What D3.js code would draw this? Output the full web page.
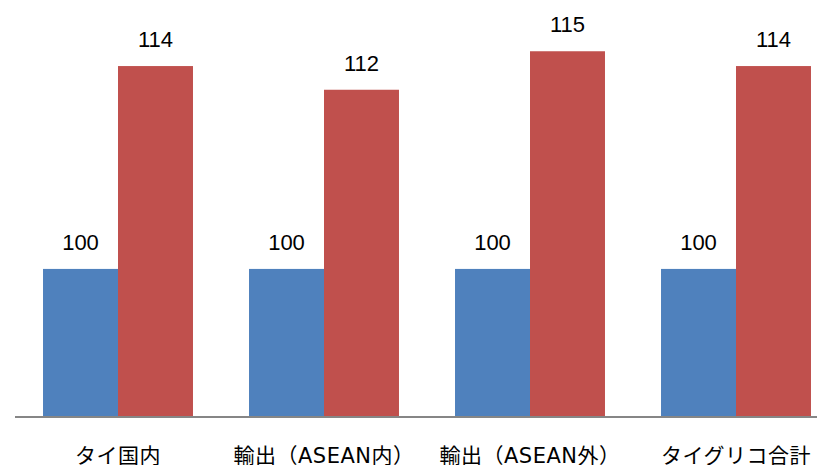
<!DOCTYPE html>
<html>
<head>
<meta charset="utf-8">
<script src="https://cdn.jsdelivr.net/npm/d3@7"></script>
<style>
  body { margin: 0; background: #fff; }
  svg { display: block; }
</style>
</head>
<body>
<div id="chart"></div>
<script>
// chart data
let categories = ["タイ国内", "輸出（ASEAN内）", "輸出（ASEAN外）", "タイグリコ合計"];
let seriesNames = ["base", "current"];
let baseValues = [100, 100, 100, 100];
let currentValues = [113.7, 112.1, 114.7, 113.7];
let seriesColors = ['#4F81BD', '#C0504D'];

let width = 817, height = 465;
let plotLeft = 15, plotRight = 839, plotBottom = 417, plotTop = 32;

let svg = d3.select('#chart').append('svg')
    .attr('width', width)
    .attr('height', height);

let x = d3.scaleBand()
    .domain(categories)
    .range([plotLeft, plotRight])
    .paddingInner(0.272)
    .paddingOuter(0.136);

let xSub = d3.scaleBand()
    .domain(seriesNames)
    .range([0, x.bandwidth()]);

let y = d3.scaleLinear()
    .domain([90, 116])
    .range([plotBottom, plotTop]);

let rows = categories.map(function(c, i){
    return {cat: c, values: [baseValues[i], currentValues[i]]};
});

let fmt = d3.format('.0f');

let groups = svg.append('g').selectAll('g')
    .data(rows)
    .enter()
    .append('g')
    .attr('transform', function(d){ return 'translate(' + x(d.cat) + ',0)'; });

groups.selectAll('rect')
    .data(function(d){ return d.values.map(function(v, j){ return {key: seriesNames[j], v: v, j: j}; }); })
    .enter()
    .append('rect')
    .attr('x', function(d){ return xSub(d.key); })
    .attr('width', xSub.bandwidth())
    .attr('y', function(d){ return y(d.v); })
    .attr('height', function(d){ return plotBottom - y(d.v); })
    .attr('fill', function(d){ return seriesColors[d.j]; });

// data labels
groups.selectAll('text')
    .data(function(d){ return d.values.map(function(v, j){ return {key: seriesNames[j], v: v}; }); })
    .enter()
    .append('text')
    .attr('x', function(d){ return xSub(d.key) + xSub.bandwidth() / 2; })
    .attr('y', function(d){ return y(d.v) - 19; })
    .attr('text-anchor', 'middle')
    .attr('font-family', "'Liberation Sans', Arial, sans-serif")
    .attr('font-size', 22)
    .attr('fill', '#000')
    .text(function(d){ return fmt(d.v); });

// x axis
let xAxis = svg.append('g')
    .attr('transform', 'translate(0,' + plotBottom + ')')
    .call(d3.axisBottom(x).tickSize(0).tickPadding(0));

xAxis.select('.domain')
    .attr('stroke', '#868686')
    .attr('stroke-width', 2)
    .attr('d', 'M' + plotLeft + ',0H' + plotRight);

xAxis.selectAll('text')
    .attr('y', 46)
    .attr('dy', 0)
    .attr('font-family', "'DejaVu Sans', 'Noto Sans CJK JP', sans-serif")
    .attr('font-size', 21)
    .attr('letter-spacing', 0.5)
    .attr('fill', '#000');
</script>
</body>
</html>
